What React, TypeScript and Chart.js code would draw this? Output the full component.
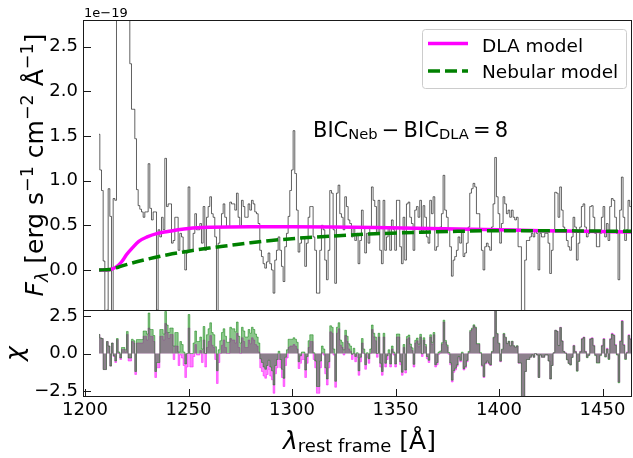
import React, { useEffect, useRef } from 'react';
import { Chart, registerables } from 'chart.js';

Chart.register(...registerables);

// ---------- data ----------
const X_MIN = 1199.03;
const X_MAX = 1464.25;
const xTicks = [1200, 1250, 1300, 1350, 1400, 1450];
const fluxTicks = [0, 0.5, 1, 1.5, 2, 2.5];
const chiTicks = [-2.5, 0, 2.5];

// wavelength grid of the binned spectrum (Å, bin centres)
const binStart = 1206.76;
const binWidth = 0.805;

// observed flux (1e-19 erg s^-1 cm^-2 Å^-1)
const flux = [
  1.52, 1.12, 0.89, 0.10, -0.50, -0.45, 0.91, 0.60, -0.50, 0.80, 0.78,
  3.2, 3.5, 3.3, 3.6, 3.4, 3.2, 3.3, 3.1,
  2.31, 1.80, 1.80, 1.47, 0.90, 0.72, 0.68, 0.65, 0.59, 0.65, 0.65,
  1.19, 0.69, 0.56, 0.65, 0.65, -0.45, 0.45, 0.37, 0.59, 0.45, 1.25, 0.71, 0.74, 0.74, 0.30,
  0.33, 0.59, 0.59, 0.22, 0.41, 0.37, 0.22, 0.00, 0.19, 0.93, 0.22, 0.22, 0.41, 0.63, 0.45,
  0.45, 0.52, 0.30, 0.71, 0.22, 0.59, 0.71, 0.82, 0.63, 0.59, 0.37, -0.50, 0.30, 0.48, 0.63,
  0.74, 0.59, 0.48, 0.48, 0.76, 0.74, 0.74, 0.67, 0.86, 0.59, 0.48, 0.78, 0.71, 0.59, 0.59,
  0.74, 0.67, 0.78, 0.74, 0.65, 0.63, 0.52, 0.22, 0.15, 0.07, 0.02, 0.09, 0.19, 0.07, 0.00,
  -0.26, 0.11, 0.22, 0.37, 0.22, 0.04, -0.13, 0.26, 0.41, 0.60, 0.89, 1.12, 1.56, 1.08, 0.67, 0.20,
  0.30, 0.37, 0.37, 0.04, 0.30, 0.59, 0.71, 0.71, 0.37, 0.22,
  -0.26, -0.26, 0.22, 0.50, 0.45, 0.11, -0.11, 0.22, 0.89, 0.86,
  0.45, -0.15, 0.86, 0.95, 0.63, 0.59, 0.45, 0.82, 0.71, 0.56,
  0.52, 0.37, 0.48, 0.33, 0.41, 0.07, 0.33, 0.67, 0.48, 0.19,
  0.41, 0.30, 0.48, 0.93, 0.78, 0.71, 0.41, 0.78, 0.22, 0.07,
  0.78, 0.22, 0.37, 0.48, 0.22, 0.56, 0.45, 0.22, 0.78, 0.78,
  0.26, 0.07, 0.59, 0.11, 0.74, 0.76, 0.59, 0.52, 0.22, 0.67,
  0.71, 0.59, 0.78, 0.41, 0.72, 0.59, 0.37, 0.30, 0.78, 0.63,
  0.82, 0.22, 0.26, 0.45, 0.48, 0.63, 1.06, 0.67, 0.59, 0.45,
  0.26, -0.07, 0.11, 0.15, 0.22, 0.37, 0.30, 0.45, 0.15, 0.19,
  0.30, 0.48, 0.86, 0.91, 0.97, 0.93, 0.63, 0.63, 0.45, 0.22,
  0.00, 0.26, 0.30, 0.26, 0.22, 0.48, 0.74, 1.26, 0.82, 0.63,
  0.30, 0.52, 0.82, 0.74, 0.63, 0.67, 0.59, 0.67, 0.59, 0.56,
  0.59, 0.26, 0.26, -0.50, -0.50, 0.11, 0.33, 0.33, 0.37, 0.41,
  0.37, 0.45, 0.41, 0.00, 0.41, 0.37, 0.37, 0.41, 0.41, 0.30,
  -0.04, 0.22, 0.45, 0.87, 0.86, 0.59, 0.93, 0.67, 0.48, 0.45,
  0.33, 0.26, 0.22, 0.37, 0.59, 0.48, 0.11, 0.30, 0.48, 0.71,
  0.74, 0.48, 0.37, 0.41, 0.71, 0.72, 0.59, 0.41, 0.26, 0.26,
  0.41, 0.59, 0.71, 0.37, 0.52, 0.33, 0.71, 0.80, 0.78, 0.59,
  0.41, -0.11, 0.67, 1.04, 0.59, 0.33, 0.45, 0.78, 0.71, 0.41,
];

// residuals (chi) for the DLA model
const chiDla = [
  1.27, 1.04, 1.0, -1.07, -1.07, 0.8, 0.5, -0.84, 0.7, -0.2, -0.6, 0.93, 0.0, -0.4, 0.27, 0.27, 0.1, 1.27, -0.5, -0.5,
  0.8, 0.7, -1.4, 0.7, 0.7, 0.7, 0.7, 1.15, 1.15, 0.9, 1.7, 1.15, 1.15, 0.8, -1.6, -0.95, -0.95, 1.15, 1.15, 0.9,
  2.0, 1.4, 1.0, 1.27, 1.27,
  -0.4, 0.5, 0.5, -0.8, -0.1, -0.3, -0.8, -1.6, -0.9, 1.7,
  -0.9, -0.9, -0.2, 0.6, -0.1, -0.1, 0.2, -0.6, 0.9, -0.9,
  0.4, 0.8, 1.2, 0.55, 0.4, -0.4, -2.0, -0.6, 0.0, 0.55,
  0.9, 0.4, 0.0, 0.0, 1.0, 0.9, 0.9, 0.7, 1.35, 0.4,
  0.0, 1.05, 0.8, 0.4, 0.4, 0.9, 0.65, 1.05, 0.9, 0.6,
  0.5, 0.1, -0.95, -1.2, -1.5, -1.65, -1.4, -1.05, -1.5, -1.75,
  -2.65, -1.35, -0.95, -0.4, -0.95, -1.6, -2.2, -0.8, -0.3, 0.4,
  0.5, 0.5, 0.6, 0.5, 0.3, -1.0,
  -0.65, -0.4, -0.4, -1.6, -0.65, 0.4, 0.8, 0.8, -0.4, -0.95,
  -2.65, -2.65, -0.95, 0.05, -0.1, -1.35, -2.1, -0.95, 1.45, 1.35,
  -0.1, -2.25, 1.35, 1.65, 0.55, 0.4, -0.1, 1.2, 0.8, 0.3,
  0.15, -0.4, 0.0, -0.55, -0.25, -1.45, -0.55, 0.7, 0.0, -1.05,
  -0.25, -0.65, 0.0, 1.6, 1.1, 0.85, -0.25, 1.1, -0.9, -1.45,
  1.1, -0.9, -0.4, 0.0, -0.9, 0.3, -0.1, -0.9, 1.1, 1.1,
  -0.75, -1.45, 0.4, -1.3, 0.95, 1.05, 0.45, 0.2, -0.9, 0.7,
  0.85, 0.45, 1.1, -0.2, 0.9, 0.45, -0.35, -0.6, 1.1, 0.6,
  1.25, -0.9, -0.75, -0.05, 0.05, 0.6, 2.1, 0.75, 0.45, -0.05,
  -0.75, -1.9, -1.25, -1.1, -0.85, -0.3, -0.55, 0.0, -1.1, -0.95,
  -0.55, 0.05, 1.45, 1.6, 1.85, 1.7, 0.6, 0.6, 0.0, -0.85,
  -1.6, -0.7, -0.55, -0.7, -0.8, 0.1, 1.05, 2.9, 1.3, 0.65,
  -0.55, 0.25, 1.3, 1.05, 0.65, 0.8, 0.5, 0.8, 0.5, 0.4,
  0.5, -0.65, -0.65, -3.4, -3.35, -1.2, -0.4, -0.4, -0.25, -0.1,
  -0.25, 0.0, -0.1, -1.6, -0.1, -0.25, -0.25, -0.1, -0.1, -0.5,
  -1.7, -0.8, 0.05, 1.55, 1.5, 0.55, 1.75, 0.85, 0.15, 0.05,
  -0.4, -0.65, -0.75, -0.25, 0.55, 0.15, -1.15, -0.5, 0.15, 1.0,
  1.1, 0.15, -0.25, -0.1, 1.0, 1.05, 0.55, -0.1, -0.6, -0.6,
  -0.1, 0.55, 1.0, -0.2, 0.35, -0.35, 1.0, 1.35, 1.25, 0.6,
  -0.05, -1.9, 0.85, 2.2, 0.6, -0.35, 0.1, 1.25, 1.0, -0.05,
];

// residuals (chi) for the nebular model
const chiNeb = [
  1.27, 1.04, 1.0, -1.07, -1.07, 0.8, 0.5, -0.84, 0.7, -0.15, -0.5, 1.0, 0.1, -0.3, 0.4, 0.4, 0.25, 1.47, -0.3, -0.3,
  0.95, 0.85, -1.2, 0.93, 0.93, 0.93, 0.93, 1.5, 1.5, 1.3, 2.7, 1.6, 1.6, 1.2, -1.2, -0.6, -0.6, 1.6, 1.6, 1.3,
  2.8, 1.9, 1.4, 1.7, 1.7,
  0.5, 1.4, 1.4, 0.1, 0.8, 0.6, 0.1, -0.7, 0.0, 2.6,
  0.0, 0.0, 0.7, 1.5, 0.8, 0.8, 1.1, 0.3, 1.8, 0.0,
  1.25, 1.65, 2.05, 1.4, 1.25, 0.45, -1.15, 0.25, 0.85, 1.4,
  1.65, 1.15, 0.75, 0.75, 1.75, 1.65, 1.65, 1.45, 2.1, 1.15,
  0.7, 1.75, 1.5, 1.1, 1.1, 1.6, 1.35, 1.75, 1.6, 1.3,
  1.1, 0.7, -0.35, -0.6, -0.9, -1.05, -0.8, -0.45, -0.9, -1.15,
  -2.1, -0.8, -0.4, 0.15, -0.4, -1.05, -1.65, -0.25, 0.25, 0.95,
  0.95, 0.95, 1.05, 0.95, 0.75, -0.55,
  -0.15, 0.1, 0.1, -1.1, -0.2, 0.85, 1.25, 1.25, 0.05, -0.5,
  -2.2, -2.2, -0.5, 0.5, 0.3, -0.95, -1.7, -0.55, 1.85, 1.75,
  0.3, -1.85, 1.75, 2.05, 0.9, 0.75, 0.25, 1.55, 1.15, 0.65,
  0.5, -0.05, 0.35, -0.2, 0.05, -1.15, -0.25, 1.0, 0.3, -0.75,
  0.05, -0.35, 0.3, 1.9, 1.35, 1.1, 0.0, 1.35, -0.65, -1.2,
  1.35, -0.65, -0.15, 0.25, -0.7, 0.5, 0.1, -0.7, 1.3, 1.3,
  -0.55, -1.25, 0.6, -1.1, 1.13, 1.23, 0.63, 0.38, -0.72, 0.88,
  1.03, 0.63, 1.28, -0.02, 1.05, 0.6, -0.2, -0.45, 1.25, 0.75,
  1.4, -0.75, -0.6, 0.1, 0.17, 0.72, 2.22, 0.87, 0.57, 0.07,
  -0.63, -1.78, -1.13, -0.98, -0.76, -0.21, -0.46, 0.09, -1.01, -0.86,
  -0.46, 0.14, 1.54, 1.69, 1.91, 1.76, 0.66, 0.66, 0.06, -0.79,
  -1.54, -0.64, -0.49, -0.64, -0.76, 0.14, 1.09, 2.94, 1.34, 0.69,
  -0.51, 0.29, 1.34, 1.09, 0.67, 0.82, 0.52, 0.82, 0.52, 0.42,
  0.52, -0.63, -0.63, -3.38, -3.35, -1.2, -0.4, -0.4, -0.25, -0.1,
  -0.25, 0.0, -0.1, -1.6, -0.1, -0.25, -0.25, -0.1, -0.1, -0.5,
  -1.7, -0.8, 0.05, 1.55, 1.48, 0.53, 1.73, 0.83, 0.13, 0.03,
  -0.42, -0.67, -0.77, -0.27, 0.52, 0.12, -1.18, -0.53, 0.12, 0.97,
  1.07, 0.12, -0.28, -0.13, 0.96, 1.01, 0.51, -0.14, -0.64, -0.64,
  -0.14, 0.51, 0.96, -0.24, 0.3, -0.4, 0.95, 1.3, 1.2, 0.55,
  -0.1, -1.95, 0.8, 2.15, 0.55, -0.4, 0.05, 1.2, 0.95, -0.1,
];

// model curves
const dlaWave = [1206.8, 1210, 1213, 1216, 1218, 1220, 1223, 1226, 1230, 1235, 1240, 1245, 1250, 1260, 1280, 1300, 1320, 1340, 1360, 1380, 1400, 1420, 1440, 1465];
const dlaFlux = [0, 0, 0.01, 0.05, 0.1, 0.17, 0.25, 0.32, 0.37, 0.41, 0.43, 0.45, 0.465, 0.478, 0.485, 0.485, 0.482, 0.476, 0.468, 0.46, 0.45, 0.44, 0.434, 0.425];
const nebWave = [1206.8, 1212, 1216, 1220, 1230, 1240, 1250, 1260, 1270, 1280, 1290, 1300, 1320, 1340, 1360, 1380, 1400, 1420, 1440, 1465];
const nebFlux = [0, 0.005, 0.03, 0.06, 0.12, 0.17, 0.21, 0.245, 0.275, 0.305, 0.33, 0.35, 0.38, 0.405, 0.42, 0.433, 0.44, 0.44, 0.437, 0.432];

// ---------- helpers ----------
const FONT = "'DejaVu Sans', sans-serif";
const fmt = (v: number) => (v < 0 ? '\u2212' + Math.abs(v).toFixed(1) : v.toFixed(1));

function framePlugin(yVals: number[], xVals: number[] | null) {
  return {
    id: 'frame',
    afterDraw(chart: any) {
      const { ctx, chartArea: a, scales } = chart;
      ctx.save();
      ctx.strokeStyle = '#1a1a1a';
      ctx.lineWidth = 1;
      ctx.strokeRect(a.left + 0.5, a.top + 0.5, a.right - a.left - 1, a.bottom - a.top - 1);
      ctx.beginPath();
      for (const v of yVals) {
        const py = Math.round(scales.y.getPixelForValue(v)) + 0.5;
        ctx.moveTo(a.left, py);
        ctx.lineTo(a.left + 8, py);
      }
      if (xVals) {
        for (const v of xVals) {
          const px = Math.round(scales.x.getPixelForValue(v)) + 0.5;
          ctx.moveTo(px, a.bottom);
          ctx.lineTo(px, a.bottom - 8);
        }
      }
      ctx.stroke();
      if (xVals) {
        ctx.fillStyle = '#000';
        ctx.font = "18px 'DejaVu Sans', sans-serif";
        ctx.textAlign = 'center';
        ctx.textBaseline = 'alphabetic';
        for (const v of xVals) {
          ctx.fillText(String(v), scales.x.getPixelForValue(v), a.bottom + 17.7);
        }
      }
      ctx.restore();
    },
  };
}

const fixY = (s: any) => {
  s.width = 83;
  s.paddingTop = 0;
  s.paddingBottom = 0;
  s.paddingLeft = 0;
  s.paddingRight = 0;
};

export default function App() {
  const topRef = useRef<HTMLCanvasElement>(null);
  const botRef = useRef<HTMLCanvasElement>(null);

  useEffect(() => {
    const n = Math.min(flux.length, chiDla.length, chiNeb.length);
    const wl: number[] = [];
    for (let i = 0; i < n; i++) wl.push(binStart + i * binWidth);
    const pts = (ys: number[]) => wl.map((x, i) => ({ x, y: ys[i] }));

    const tickFont = { family: FONT, size: 18 };

    const top = new Chart(topRef.current as HTMLCanvasElement, {
      type: 'line',
      data: {
        datasets: [
          {
            label: 'Nebular model',
            data: nebWave.map((x, i) => ({ x, y: nebFlux[i] })),
            borderColor: '#008000',
            borderWidth: 3.5,
            borderDash: [12, 5],
            pointRadius: 0,
            cubicInterpolationMode: 'monotone',
            fill: false,
            order: 0,
          },
          {
            label: 'DLA model',
            data: dlaWave.map((x, i) => ({ x, y: dlaFlux[i] })),
            borderColor: '#ff00ff',
            borderWidth: 3.5,
            pointRadius: 0,
            cubicInterpolationMode: 'monotone',
            fill: false,
            order: 1,
          },
          {
            label: 'Spectrum',
            data: pts(flux),
            borderColor: 'rgba(0,0,0,0.62)',
            borderWidth: 1,
            pointRadius: 0,
            stepped: 'middle',
            fill: false,
            order: 2,
          },
        ],
      } as any,
      options: {
        animation: false,
        responsive: false,
        events: [],
        layout: { padding: { top: 20, right: 1, left: 0, bottom: 1 } },
        plugins: { legend: { display: false }, tooltip: { enabled: false } },
        scales: {
          x: { type: 'linear', min: X_MIN, max: X_MAX, display: false },
          y: {
            type: 'linear',
            min: -0.46,
            max: 2.8,
            afterFit: fixY,
            afterBuildTicks: (s: any) => { s.ticks = fluxTicks.map((v) => ({ value: v })); },
            grid: { display: false, drawTicks: false },
            border: { display: false },
            ticks: { font: tickFont, color: '#000', padding: 5, autoSkip: false, callback: (v: any) => fmt(Number(v)) },
          },
        },
      } as any,
      plugins: [framePlugin(fluxTicks, null)],
    });

    const bot = new Chart(botRef.current as HTMLCanvasElement, {
      type: 'line',
      data: {
        datasets: [
          {
            label: 'chi Nebular',
            data: pts(chiNeb),
            stepped: 'middle',
            pointRadius: 0,
            borderWidth: 1,
            borderColor: 'rgba(0,128,0,0.5)',
            backgroundColor: 'rgba(0,128,0,0.45)',
            fill: 'origin',
            order: 0,
          },
          {
            label: 'chi DLA',
            data: pts(chiDla),
            stepped: 'middle',
            pointRadius: 0,
            borderWidth: 1,
            borderColor: 'rgba(255,0,255,0.5)',
            backgroundColor: 'rgba(255,0,255,0.5)',
            fill: 'origin',
            order: 1,
          },
        ],
      } as any,
      options: {
        animation: false,
        responsive: false,
        events: [],
        layout: { padding: { top: 10, right: 1, left: 0, bottom: 23 } },
        plugins: { legend: { display: false }, tooltip: { enabled: false } },
        scales: {
          x: { type: 'linear', min: X_MIN, max: X_MAX, display: false },
          y: {
            type: 'linear',
            min: -2.9,
            max: 2.9,
            afterFit: fixY,
            afterBuildTicks: (s: any) => { s.ticks = chiTicks.map((v) => ({ value: v })); },
            grid: { display: false, drawTicks: false },
            border: { display: false },
            ticks: { font: tickFont, color: '#000', padding: 5, autoSkip: false, callback: (v: any) => fmt(Number(v)) },
          },
        },
      } as any,
      plugins: [framePlugin(chiTicks, xTicks)],
    });

    return () => {
      top.destroy();
      bot.destroy();
    };
  }, []);

  const sup = { fontSize: 17.5 };
  return (
    <div style={{ position: 'fixed', left: 0, top: 0, width: 633, height: 458, overflow: 'hidden', background: '#fff' }}>
      <canvas ref={topRef} width={633} height={312} style={{ position: 'absolute', left: 0, top: 0, width: 633, height: 312 }} />
      <canvas ref={botRef} width={633} height={120} style={{ position: 'absolute', left: 0, top: 300, width: 633, height: 120 }} />
      <svg width={633} height={458} style={{ position: 'absolute', left: 0, top: 0, pointerEvents: 'none' }} fontFamily="DejaVu Sans, sans-serif" fill="#000">
        <text x={84} y={16.7} fontSize={13}>{'1e\u221219'}</text>
        <g transform="translate(43,165) rotate(-90)">
          <text x={0} y={0} fontSize={25} textAnchor="middle">
            <tspan fontStyle="italic">F</tspan>
            <tspan fontSize={17.5} fontStyle="italic" dy={5}>{'\u03bb'}</tspan>
            <tspan dy={-5}>{' [erg s'}</tspan>
            <tspan {...sup} dy={-10}>{'\u22121'}</tspan>
            <tspan dy={10}>{' cm'}</tspan>
            <tspan {...sup} dy={-10}>{'\u22122'}</tspan>
            <tspan dy={10}>{' \u00c5'}</tspan>
            <tspan {...sup} dy={-10}>{'\u22121'}</tspan>
            <tspan dy={10}>{']'}</tspan>
          </text>
        </g>
        <g transform="translate(22.5,353.5) rotate(-90)">
          <text x={0} y={0} fontSize={25} fontStyle="italic" textAnchor="middle">{'\u03c7'}</text>
        </g>
        <text x={283} y={448.5} fontSize={25}>
          <tspan fontStyle="italic">{'\u03bb'}</tspan>
          <tspan fontSize={18} dy={3}>{'rest frame'}</tspan>
          <tspan dy={-3}>{' [\u00c5]'}</tspan>
        </text>
        <text x={313} y={136.7} fontSize={21}>
          {'BIC'}
          <tspan fontSize={14.7} dy={2.6}>{'Neb'}</tspan>
          <tspan dy={-2.6}>{'\u2009\u2212\u2009BIC'}</tspan>
          <tspan fontSize={14.7} dy={2.6}>{'DLA'}</tspan>
          <tspan dy={-2.6}>{'\u2009=\u20098'}</tspan>
        </text>
        <rect x={422.5} y={29.5} width={204} height={59} rx={3} fill="#ffffff" fillOpacity={0.8} stroke="#cccccc" strokeWidth={1} />
        <line x1={428} x2={468} y1={43.5} y2={43.5} stroke="#ff00ff" strokeWidth={3.5} />
        <line x1={428} x2={468} y1={71} y2={71} stroke="#008000" strokeWidth={3.5} strokeDasharray="12 5" />
        <text x={482} y={51.7} fontSize={18.5}>{'DLA model'}</text>
        <text x={482} y={78.3} fontSize={18.5}>{'Nebular model'}</text>
      </svg>
    </div>
  );
}
